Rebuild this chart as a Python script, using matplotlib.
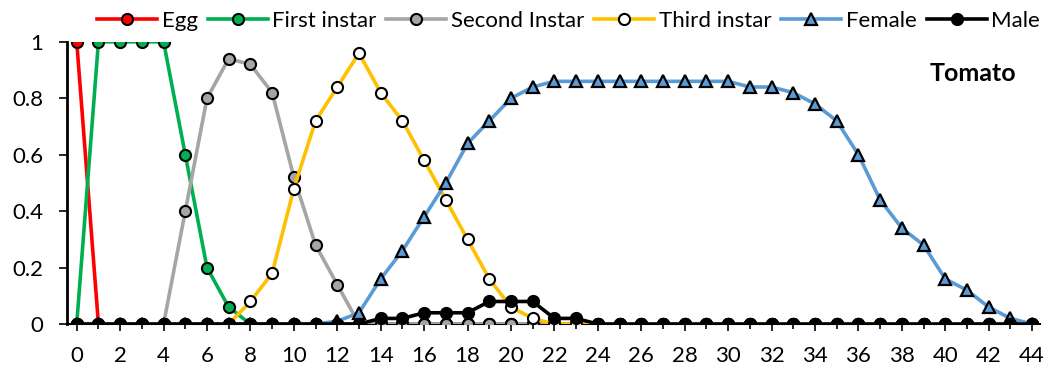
import matplotlib
matplotlib.use("Agg")
import matplotlib.pyplot as plt
import numpy as np

days = list(range(45))
egg = [1] + [0]*44
first = [0, 1, 1, 1, 1, 0.6, 0.2, 0.06] + [0]*37
second = [0, 0, 0, 0, 0, 0.4, 0.8, 0.94, 0.92, 0.82, 0.52, 0.28, 0.14] + [0]*32
third = [0]*8 + [0.08, 0.18, 0.48, 0.72, 0.84, 0.96, 0.82, 0.72, 0.58, 0.44, 0.30, 0.16, 0.06, 0.02] + [0]*23
female = [0]*12 + [0.01, 0.04, 0.16, 0.26, 0.38, 0.50, 0.64, 0.72, 0.80, 0.84,
                   0.86, 0.86, 0.86, 0.86, 0.86, 0.86, 0.86, 0.86, 0.86,
                   0.84, 0.84, 0.82, 0.78, 0.72, 0.60, 0.44, 0.34, 0.28, 0.16, 0.12, 0.06, 0.02, 0]
male = [0]*14 + [0.02, 0.02, 0.04, 0.04, 0.04, 0.08, 0.08, 0.08, 0.02, 0.02] + [0]*21

plt.rcParams['font.family'] = ['Lato', 'DejaVu Sans']

fig = plt.figure(figsize=(10.46, 3.67), dpi=100)
ax = fig.add_axes([0.064, 0.117, 0.93, 0.769])

ms = 8
lw = 2.6
mew = 1.5
ax.plot(days, egg, color='#FF0000', lw=lw, marker='o', ms=ms, mfc='#FF0000', mec='black', mew=mew, label='Egg', zorder=2)
ax.plot(days, first, color='#00B050', lw=lw, marker='o', ms=ms, mfc='#00B050', mec='black', mew=mew, label='First instar', zorder=3)
ax.plot(days, second, color='#A5A5A5', lw=lw, marker='o', ms=ms, mfc='#A5A5A5', mec='black', mew=mew, label='Second Instar', zorder=4)
ax.plot(days, third, color='#FFC000', lw=lw, marker='o', ms=ms, mfc='white', mec='black', mew=mew, label='Third instar', zorder=5)
ax.plot(days, female, color='#5B9BD5', lw=lw, marker='^', ms=ms + 0.5, mfc='#5B9BD5', mec='black', mew=1.6, label='Female', zorder=6)
ax.plot(days, male, color='black', lw=lw, marker='o', ms=ms, mfc='black', mec='black', mew=mew, label='Male', zorder=7)

ax.set_xlim(-0.45, 44.35)
ax.set_ylim(0, 1)
ax.set_xticks(range(0, 45, 2))
ax.set_xticks(range(0, 45), minor=True)
ax.set_yticks([0, 0.2, 0.4, 0.6, 0.8, 1])
ax.set_yticklabels(['0', '0.2', '0.4', '0.6', '0.8', '1'])
ax.tick_params(axis='both', labelsize=16, direction='out', length=5, width=1.2, colors='black')
ax.tick_params(axis='x', which='minor', length=3.5, width=1.2)
ax.tick_params(axis='x', pad=11)
ax.tick_params(axis='y', length=6, pad=11)
for s in ['top', 'right']:
    ax.spines[s].set_visible(False)
ax.spines['left'].set_linewidth(2)
ax.spines['bottom'].set_linewidth(1.5)

fig.text(0.93, 0.80, 'Tomato', ha='center', va='center',
         fontsize=18, fontweight='bold')

fig.legend(loc='upper right', bbox_to_anchor=(0.994, 0.97), ncol=6, frameon=False,
           fontsize=16, handlelength=2.7, columnspacing=0.45, handletextpad=0.2,
           borderaxespad=0, borderpad=0)

fig.savefig('out.png', dpi=100)
